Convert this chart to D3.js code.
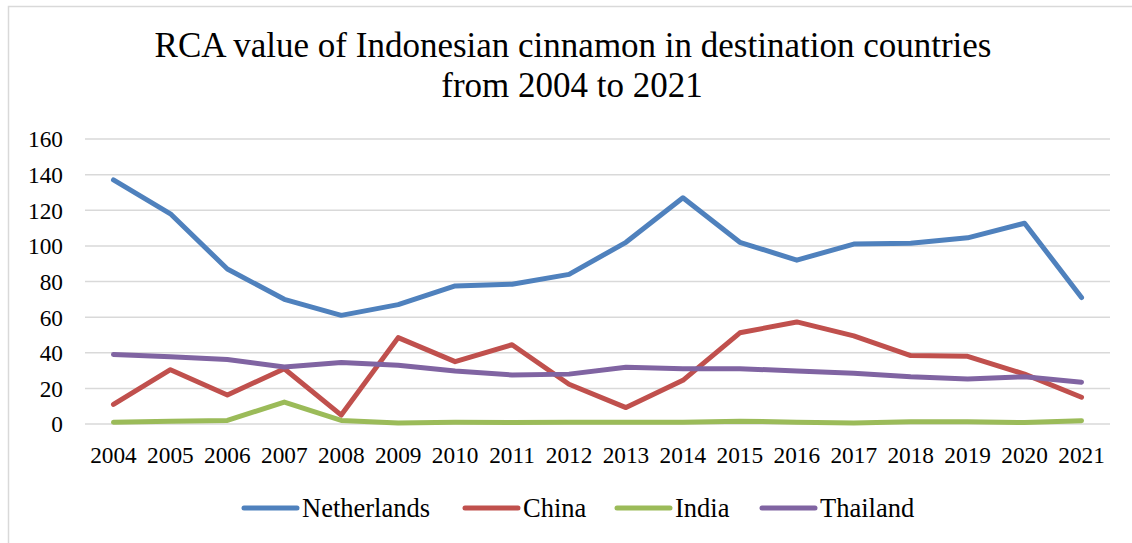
<!DOCTYPE html>
<html>
<head>
<meta charset="utf-8">
<script src="https://cdn.jsdelivr.net/npm/d3@7"></script>
<style>
  body { margin: 0; background: #fff; }
</style>
</head>
<body>
<svg id="chart"></svg>
<script>
const years = ["2004", "2005", "2006", "2007", "2008", "2009", "2010", "2011", "2012",
  "2013", "2014", "2015", "2016", "2017", "2018", "2019", "2020", "2021"];
const netherlands = [137, 118, 87, 70, 61, 67, 77.5, 78.5, 84, 102, 127, 102, 92, 101, 101.5, 104.5, 112.7, 71];
const china = [11, 30.5, 16.3, 31, 5, 48.5, 35, 44.5, 22.3, 9.2, 24.5, 51.2, 57.3, 49.5, 38.4, 38, 28, 15];
const india = [1, 1.5, 2, 12.3, 2, 0.6, 1, 0.8, 1, 1, 1, 1.6, 1, 0.5, 1.3, 1.2, 0.8, 1.8];
const thailand = [39, 37.8, 36.2, 32, 34.5, 33, 29.8, 27.5, 28, 31.9, 31, 31, 29.8, 28.5, 26.5, 25.3, 26.5, 23.5];
const seriesNames = ["Netherlands", "China", "India", "Thailand"];
const colors = ["#4f81bd", "#c0504d", "#9bbb59", "#8064a2"];
const yTicks = [0, 20, 40, 60, 80, 100, 120, 140, 160];

const FONT = "'Liberation Serif', 'Times New Roman', serif";
const W = 1132, H = 543;
const svg = d3.select("#chart")
  .attr("width", W)
  .attr("height", H)
  .style("font-family", FONT);

// outer frame (continues past the right and bottom edges)
svg.append("rect")
  .attr("x", 8.5).attr("y", 6.5)
  .attr("width", W + 20).attr("height", H + 20)
  .attr("fill", "none")
  .attr("stroke", "#d9d9d9")
  .attr("stroke-width", 1.5);

// title
const title = svg.append("text")
  .attr("text-anchor", "middle")
  .style("font-family", FONT)
  .attr("font-size", 35);
title.append("tspan").attr("x", 573).attr("y", 57)
  .text("RCA value of Indonesian cinnamon in destination countries");
title.append("tspan").attr("x", 572).attr("y", 97)
  .text("from 2004 to 2021");

const x = d3.scaleBand()
  .domain(years)
  .range([85, 1110]);

const y = d3.scaleLinear()
  .domain([0, 160])
  .range([424, 139]);

// gridlines
svg.append("g")
  .selectAll("line")
  .data(yTicks)
  .enter()
  .append("line")
  .attr("x1", 85).attr("x2", 1110)
  .attr("y1", d => y(d)).attr("y2", d => y(d))
  .attr("stroke", "#d9d9d9")
  .attr("stroke-width", 1.5);

// y axis labels
const yAxis = svg.append("g")
  .attr("transform", "translate(85,0)")
  .call(d3.axisLeft(y).tickValues(yTicks).tickSize(0).tickPadding(22));
yAxis.select(".domain").remove();
yAxis.attr("font-family", null);
yAxis.selectAll("text")
  .style("font-family", FONT)
  .attr("fill", "#000")
  .attr("font-size", 23.3)
  .attr("dy", "0.34em");

// x axis labels
const xAxis = svg.append("g")
  .attr("transform", "translate(0,424)")
  .call(d3.axisBottom(x).tickSize(0).tickPadding(22));
xAxis.select(".domain").remove();
xAxis.attr("font-family", null);
xAxis.selectAll("text")
  .style("font-family", FONT)
  .attr("fill", "#000")
  .attr("font-size", 23.3)
  .attr("dy", "0.71em");

const allSeries = [netherlands, china, india, thailand];

const line = d3.line()
  .x((d, i) => x(years[i]) + x.bandwidth() / 2)
  .y(d => y(d));

svg.append("g")
  .selectAll("path")
  .data(allSeries)
  .enter()
  .append("path")
  .attr("d", line)
  .attr("fill", "none")
  .attr("stroke", (d, i) => colors[i])
  .attr("stroke-width", 5)
  .attr("stroke-linecap", "round")
  .attr("stroke-linejoin", "round");

// legend
const legendX = [244, 465, 617, 762];
const legend = svg.append("g")
  .selectAll("g")
  .data(seriesNames)
  .enter()
  .append("g")
  .attr("transform", (d, i) => `translate(${legendX[i]},508)`);

legend.append("line")
  .attr("x1", 0).attr("x2", 53)
  .attr("stroke", (d, i) => colors[i])
  .attr("stroke-width", 5)
  .attr("stroke-linecap", "round");

legend.append("text")
  .attr("x", 58)
  .attr("dy", "0.34em")
  .style("font-family", FONT)
  .attr("font-size", 26.5)
  .text(d => d);
</script>
</body>
</html>
